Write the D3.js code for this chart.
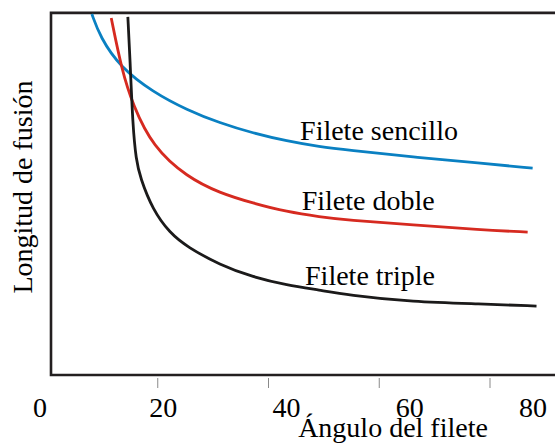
<!DOCTYPE html>
<html><head><meta charset="utf-8"><script src="https://cdn.jsdelivr.net/npm/d3@7"></script></head>
<body style="margin:0">
<svg id="chart" width="555" height="443"></svg>
<script>
// angulo del filete (x) vs longitud de fusion (y, sin unidades)
var angulo_sencillo = [8.1, 9.6, 13.2, 19.1, 25.3, 31.2, 37.2, 43.3, 49.3, 54.2, 66.1, 78.2, 87.7]
var long_sencillo   = [100, 93.6, 85.3, 78.4, 73.4, 69.8, 67.0, 64.8, 63.2, 62.3, 60.4, 58.7, 57.3]

var angulo_doble = [11.6, 13.5, 15.5, 19.1, 25.3, 31.2, 37.2, 43.3, 49.3, 54.2, 66.1, 78.2, 86.8]
var long_doble   = [98.9, 84.5, 74.8, 63.2, 54.8, 50.4, 47.6, 45.2, 43.8, 42.9, 41.6, 40.2, 39.6]

var angulo_triple = [14.6, 15.0, 15.5, 16.1, 16.8, 19.1, 22.2, 25.3, 31.2, 37.2, 43.3, 49.3, 54.2, 66.1, 78.2, 88.4]
var long_triple   = [99.2, 87.3, 68.7, 59.6, 54.8, 45.7, 39.3, 35.5, 30.5, 27.1, 24.9, 23.5, 22.2, 20.2, 19.7, 19.1]

var xTicks = [0, 20, 40, 60, 80]
var nombres = ['Filete sencillo', 'Filete doble', 'Filete triple']

var svg = d3.select('#chart')

var x = d3.scaleLinear().domain([0, 80]).range([47, 490])
var xLabel = d3.scaleLinear().domain([0, 80]).range([40, 533]) // los numeros no caen justo en las marcas
var y = d3.scaleLinear().domain([0, 100]).range([375, 14])

var colores = ['#0a80c2', '#d62a20', '#1b1a1a']

var series = [
    {nombre: nombres[0], xs: angulo_sencillo, ys: long_sencillo, color: colores[0], lx: 45.7, ly: 65.0},
    {nombre: nombres[1], xs: angulo_doble, ys: long_doble, color: colores[1], lx: 46.0, ly: 45.7},
    {nombre: nombres[2], xs: angulo_triple, ys: long_triple, color: colores[2], lx: 46.6, ly: 25.0}
]

function serif(sel) {
    return sel.style('font-family', function(){ return '"Liberation Serif"' })
        .attr('font-size', 28)
}

// marco (abierto por la derecha, se sale de la imagen)
svg.append('path')
    .attr('d', 'M 560 ' + y(100.3) + ' H 51 V ' + y(0) + ' H 560')
    .attr('fill', 'none')
    .attr('stroke', '#231f20')
    .attr('stroke-width', 2.6)

// marcas del eje x
svg.selectAll('line.tick')
    .data(xTicks.slice(1))
    .enter()
    .append('line')
    .attr('class', 'tick')
    .attr('x1', function(d){ return x(d) })
    .attr('x2', function(d){ return x(d) })
    .attr('y1', y(0) + 3)
    .attr('y2', y(0) + 13)
    .attr('stroke', '#8a8a8a')
    .attr('stroke-width', 1)

serif(svg.selectAll('text.tickLabel')
    .data(xTicks)
    .enter()
    .append('text')
    .attr('class', 'tickLabel')
    .attr('x', function(d){ return xLabel(d) })
    .attr('y', 417)
    .attr('text-anchor', 'middle'))
    .text(function(d){ return d })

var line = d3.line()
    .x(function(d){ return x(d[0]) })
    .y(function(d){ return y(d[1]) })
    .curve(d3.curveBasis)

series.forEach(function(s){
    var pts = s.xs.map(function(v, i){ return [v, s.ys[i]] })
    svg.append('path')
        .datum(pts)
        .attr('d', line)
        .attr('fill', 'none')
        .attr('stroke', s.color)
        .attr('stroke-width', 2.8)
})

serif(svg.selectAll('text.serie')
    .data(series)
    .enter()
    .append('text')
    .attr('class', 'serie')
    .attr('x', function(d){ return x(d.lx) })
    .attr('y', function(d){ return y(d.ly) }))
    .text(function(d){ return d.nombre })

// titulos de los ejes
serif(svg.append('text')
    .attr('x', 393)
    .attr('y', 437)
    .attr('text-anchor', 'middle'))
    .text('Ángulo del filete')

serif(svg.append('text')
    .attr('transform', 'translate(32,187) rotate(-90)')
    .attr('text-anchor', 'middle'))
    .text('Longitud de fusión')
</script></body></html>
